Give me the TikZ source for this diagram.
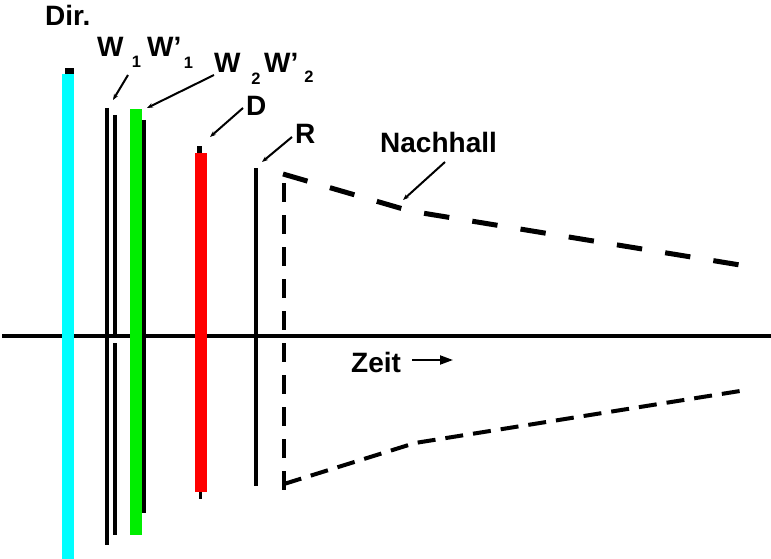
\documentclass[tikz,border=0pt]{standalone}
\usepackage{fontspec}
\setmainfont{Liberation Sans}
\usetikzlibrary{arrows.meta}
\definecolor{dircyan}{RGB}{0,255,255}
\definecolor{wgreen}{RGB}{0,238,0}
\definecolor{dred}{RGB}{255,0,0}
\begin{document}
\begin{tikzpicture}[x=1pt,y=-1pt,
  lbl/.style={inner sep=0pt,anchor=base west,font=\fontsize{28}{30}\selectfont\bfseries},
  sub/.style={inner sep=0pt,anchor=base,font=\fontsize{16.5}{18}\selectfont\bfseries},
  leader/.style={line width=2pt,-{Stealth[length=6pt,width=4.5pt]}},
  refl/.style={line width=3.5pt},
  nach/.style={line width=5pt,dash pattern=on 25.5pt off 23.35pt},
  nachlow/.style={line width=4pt,dash pattern=on 18pt off 10pt},
  vdash/.style={line width=4pt,dash pattern=on 19pt off 13pt}]
\useasboundingbox (0,0) rectangle (771,559);
% axis
\draw[line width=4.5pt] (2,336) -- (771,336);
% direct sound
\fill[dircyan] (62,74) rectangle (74,559);
\fill[black] (65,68) rectangle (74,74);
% W1, W1'
\draw[refl] (107,108) -- (107,545);
\draw[refl] (115,115) -- (115,336);
\draw[refl] (115,343) -- (115,535);
% W2, W2'
\draw[line width=3.3pt] (144,120) -- (144,513);
\fill[wgreen] (130,109) rectangle (142,535);
% D
\fill[dred] (195,153) rectangle (207,492);
\fill[black] (197,146) rectangle (202,153);
\fill[black] (199,492) rectangle (202,499);
% R
\draw[line width=3.3pt] (256,168) -- (256,486);
% Nachhall envelope
\draw[vdash] (284,183) -- (284,490);
\draw[nach] (283,174) -- (410,211) -- (740,265);
\draw[nachlow] (284,484) -- (415,443) -- (740,391);
% labels
\node[lbl] (dir) at (45,26) {Dir.};
\node[lbl] (w1) at (97,57) {W};
\node[sub] (w1s) at (136.5,68) {1};
\node[lbl] (w1p) at (147,57) {W'};
\node[sub] (w1ps) at (188.5,69) {1};
\node[lbl] (w2) at (214,73) {W};
\node[sub] (w2s) at (256,85) {2};
\node[lbl] (w2p) at (264,73) {W'};
\node[sub] (w2ps) at (309,83) {2};
\node[lbl] (d) at (246,116) {D};
\node[lbl] (r) at (295,143) {R};
\node[lbl] (nh) at (380,153) {Nachhall};
\node[lbl] (zeit) at (351,372) {Zeit};
% leader targets
\coordinate (w1t) at (113,100);
\coordinate (w1f) at (128,75);
\coordinate (w2t) at (147,108);
\coordinate (w2f) at (214,75);
\coordinate (dt) at (210,137);
\coordinate (df) at (243,108);
\coordinate (rt) at (262,162);
\coordinate (rf) at (292,137);
\coordinate (nt) at (403,200);
\coordinate (nf) at (445,162);
\coordinate (zs) at (412,360);
\coordinate (ze) at (453,360);
\draw[leader] (w1f) -- (w1t);
\draw[leader] (w2f) -- (w2t);
\draw[leader] (df) -- (dt);
\draw[leader] (rf) -- (rt);
\draw[leader] (nf) -- (nt);
\draw[line width=2pt,-{Triangle[length=13pt,width=9pt]}] (zs) -- (ze);
\end{tikzpicture}
\end{document}
